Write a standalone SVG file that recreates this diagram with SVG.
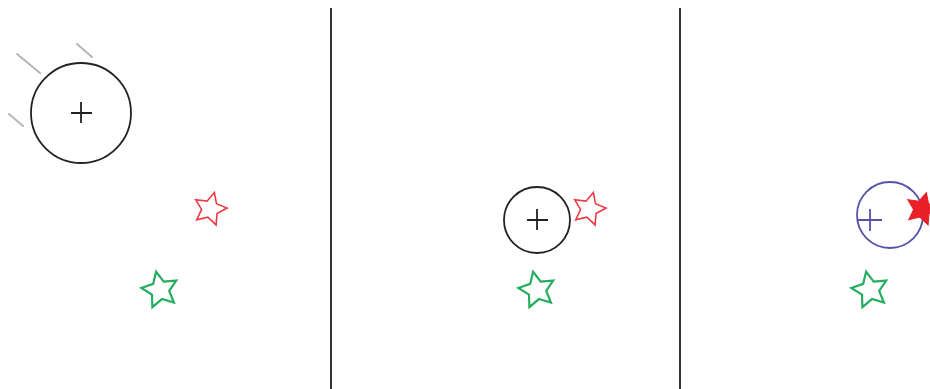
<svg xmlns="http://www.w3.org/2000/svg" xmlns:xlink="http://www.w3.org/1999/xlink" width="930" height="389" viewBox="0 0 930 389">
<style>
.bg{fill:#ffffff}
.div{stroke:#333333;stroke-width:2}
.ball{fill:none;stroke:#222222;stroke-width:1.8}
.cross{stroke:#222222;stroke-width:1.8;fill:none}
.motion{stroke:#b5b5b5;stroke-width:2;stroke-linecap:round}
.red{fill:none;stroke:#ec3b45;stroke-width:1.6;stroke-linejoin:miter}
.redfill{fill:#e8202a;stroke:#e8202a;stroke-width:1}
.green{fill:none;stroke:#27ad60;stroke-width:2;stroke-linejoin:miter}
.blue{fill:none;stroke:#5552a8;stroke-width:1.8}
</style>
<defs>
<path id="star" d="M0,-17 L4.9,-6.8 L16.2,-5.3 L8,2.6 L10,13.8 L0,8.4 L-10,13.8 L-8,2.6 L-16.2,-5.3 L-4.9,-6.8 Z"/>
</defs>
<rect class="bg" x="0" y="0" width="930" height="389"/>
<g id="dividers">
<line class="div" x1="331" y1="8" x2="331" y2="389"/>
<line class="div" x1="680" y1="8" x2="680" y2="389"/>
</g>
<g id="panel1">
<g id="motion-lines">
<line class="motion" x1="17" y1="54" x2="40" y2="73"/>
<line class="motion" x1="77" y1="44" x2="92" y2="57"/>
<line class="motion" x1="9" y1="114" x2="23" y2="126"/>
</g>
<g id="ball1">
<circle class="ball" cx="81" cy="113" r="50"/>
<path class="cross" d="M71,113 H92 M81,102 V123"/>
</g>
<use id="red-star1" href="#star" xlink:href="#star" class="red" transform="translate(210,209) rotate(15)"/>
<use id="green-star1" href="#star" xlink:href="#star" class="green" transform="translate(160,290) rotate(-12) scale(1.1)"/>
</g>
<g id="panel2">
<g id="ball2">
<circle class="ball" cx="537" cy="220" r="33"/>
<path class="cross" d="M527,220 H548 M537,209 V230"/>
</g>
<use id="red-star2" href="#star" xlink:href="#star" class="red" transform="translate(589,209) rotate(15)"/>
<use id="green-star2" href="#star" xlink:href="#star" class="green" transform="translate(537,290) rotate(-12) scale(1.1)"/>
</g>
<g id="panel3">
<g id="ball3">
<circle class="blue" cx="890" cy="215" r="33"/>
<path class="blue" d="M857,220 H882 M870,209 V231"/>
</g>
<use id="red-star3" href="#star" xlink:href="#star" class="redfill" transform="translate(922,209) rotate(15)"/>
<use id="green-star3" href="#star" xlink:href="#star" class="green" transform="translate(870,290) rotate(-12) scale(1.1)"/>
</g>
</svg>
